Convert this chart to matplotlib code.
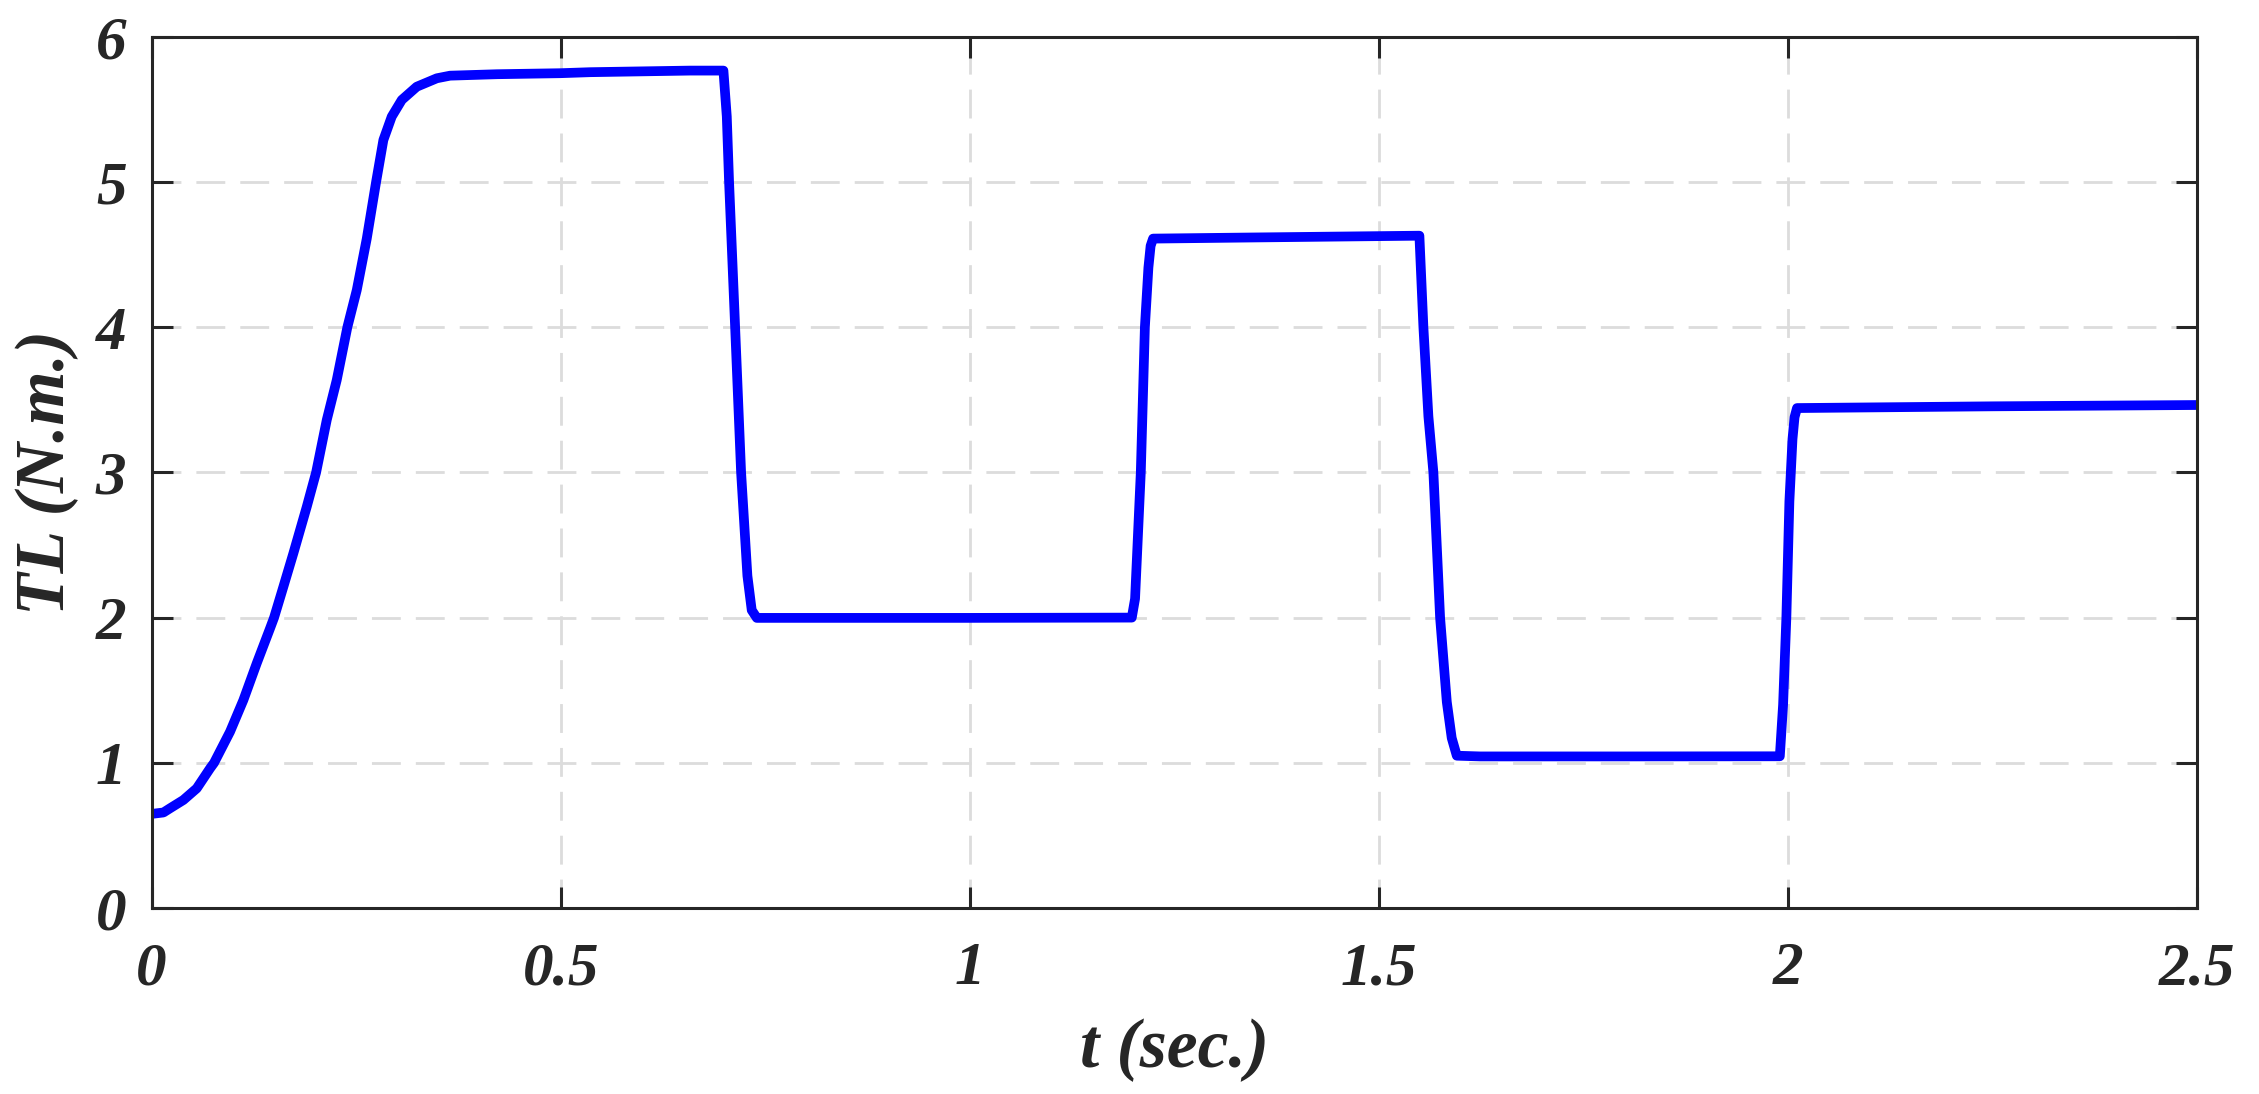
import matplotlib
matplotlib.use('Agg')
import matplotlib.pyplot as plt

# load torque TL (N.m.) vs time
t = [0.0, 0.0145, 0.0226, 0.0389, 0.0552, 0.0715, 0.0764, 0.0959, 0.1122, 0.1285,
     0.1448, 0.1497, 0.1611, 0.1733, 0.1897, 0.2011, 0.2141, 0.2263, 0.2393, 0.2508,
     0.2630, 0.2744, 0.2833, 0.2935, 0.3058, 0.3241, 0.3486, 0.3648, 0.4219, 0.4993,
     0.536, 0.6581, 0.6989, 0.703, 0.7058, 0.7132, 0.7205, 0.7282, 0.7335, 0.7397,
     0.805, 1.0, 1.198, 1.202, 1.209, 1.214, 1.2183, 1.221, 1.224, 1.35,
     1.45, 1.5495, 1.5544, 1.5605, 1.5666, 1.5748, 1.583, 1.589, 1.5952, 1.6237,
     1.80, 1.990, 1.994, 1.998, 2.0017, 2.0055, 2.008, 2.011, 2.25, 2.5]
tl = [0.648, 0.658, 0.687, 0.744, 0.824, 0.962, 1.0, 1.214, 1.432, 1.685,
      1.926, 2.0, 2.213, 2.443, 2.764, 3.0, 3.361, 3.636, 4.0, 4.256,
      4.61, 5.0, 5.289, 5.450, 5.565, 5.656, 5.714, 5.732, 5.742, 5.749,
      5.756, 5.767, 5.767, 5.451, 5.0, 4.0, 3.0, 2.288, 2.051, 1.998,
      1.998, 1.998, 2.0, 2.13, 3.0, 4.0, 4.41, 4.56, 4.61, 4.618,
      4.624, 4.63, 4.0, 3.386, 3.0, 2.0, 1.419, 1.171, 1.049, 1.044,
      1.044, 1.045, 1.4, 2.0, 2.8, 3.23, 3.38, 3.443, 3.455, 3.464]

xticks = [0, 0.5, 1, 1.5, 2, 2.5]
xticklabels = ['0', '0.5', '1', '1.5', '2', '2.5']
yticks = [0, 1, 2, 3, 4, 5, 6]

dark = '#262626'
font = {'family': 'Liberation Serif', 'weight': 'bold', 'style': 'italic'}

fig = plt.figure(figsize=(22.59, 10.94), dpi=100)
ax = fig.add_axes([0.0671, 0.1700, 0.9055, 0.7964])

ax.plot(t, tl, color='#0000ff', linewidth=7,
        solid_joinstyle='round', solid_capstyle='butt')

ax.set_xlim(0, 2.5)
ax.set_ylim(0, 6)
ax.set_xticks(xticks)
ax.set_xticklabels(xticklabels)
ax.set_yticks(yticks)

ax.grid(True, color='#dcdcdc', linewidth=2, linestyle=(0, (10.4, 5.4)))
ax.set_axisbelow(True)

for spine in ax.spines.values():
    spine.set_color(dark)
    spine.set_linewidth(2.2)

ax.tick_params(direction='in', length=15, width=2.2, color=dark,
               top=True, right=True, labelsize=44, labelcolor=dark)
ax.tick_params(axis='x', pad=24)
ax.tick_params(axis='y', pad=18)
for lab in ax.get_xticklabels() + ax.get_yticklabels():
    lab.set_fontfamily('Liberation Serif')
    lab.set_fontweight('bold')
    lab.set_fontstyle('italic')

ax.set_xlabel('t (sec.)', fontsize=50, color=dark, va='center', **font)
ax.set_ylabel('TL (N.m.)', fontsize=50, color=dark, va='center', **font)
ax.xaxis.set_label_coords(0.5, -0.163)
ax.yaxis.set_label_coords(-0.0511, 0.5)

fig.savefig('out.png', dpi=100)
